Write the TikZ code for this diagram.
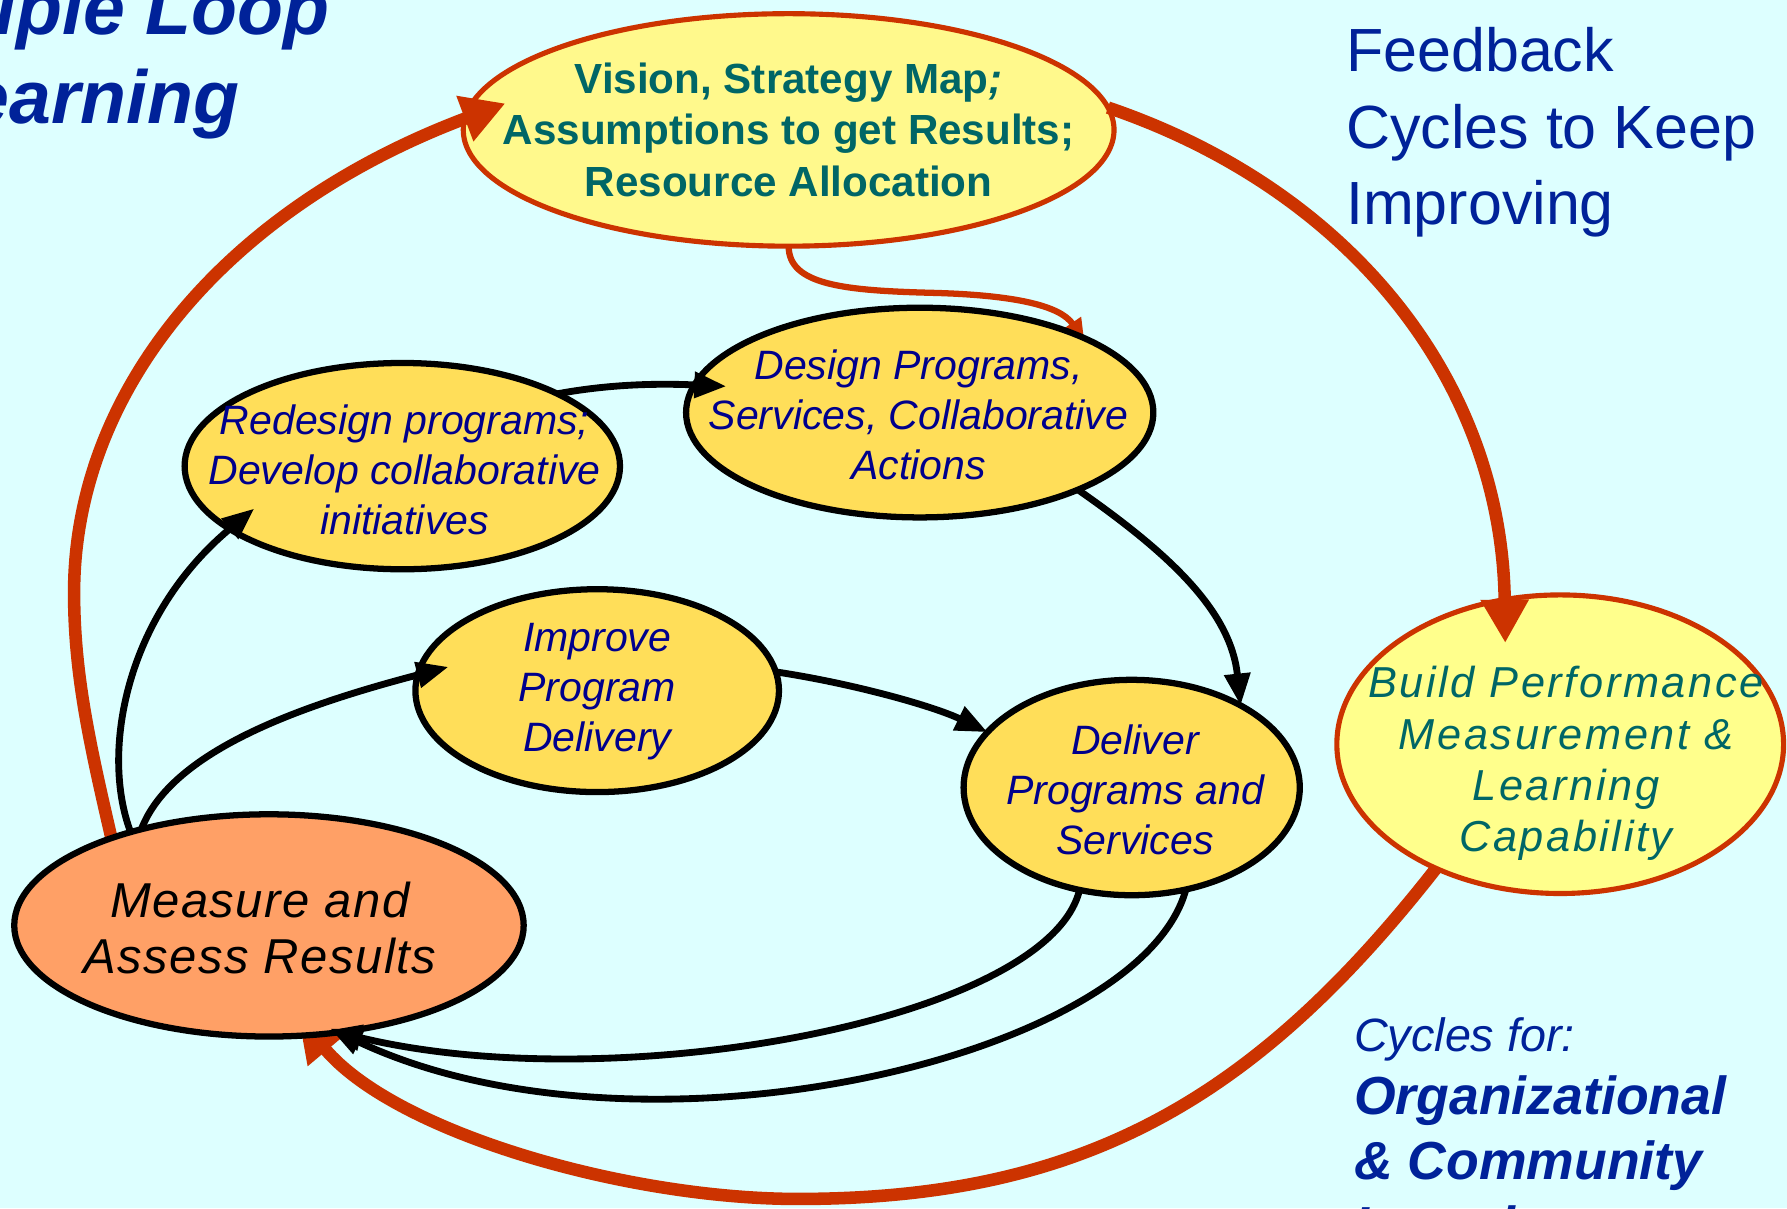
\documentclass[tikz,border=0pt]{standalone}
\usepackage{fontspec}
\setmainfont{Liberation Sans}
\newfontfamily\measfont[LetterSpace=3]{Liberation Sans}
\newfontfamily\buildfont[LetterSpace=6]{Liberation Sans}
\usetikzlibrary{arrows.meta,shapes.geometric}
\definecolor{bgc}{RGB}{221,255,255}
\definecolor{redc}{RGB}{204,51,0}
\definecolor{tealc}{RGB}{0,102,102}
\definecolor{navyc}{RGB}{0,0,140}
\definecolor{bluec}{RGB}{0,34,153}
\definecolor{ylight}{RGB}{255,249,140}
\definecolor{ybuild}{RGB}{255,255,140}
\definecolor{ygold}{RGB}{255,222,89}
\definecolor{orangec}{RGB}{255,160,102}
\pgfdeclarelayer{bgl}
\pgfdeclarelayer{lowl}
\pgfdeclarelayer{redl}
\pgfdeclarelayer{topl}
\pgfsetlayers{bgl,lowl,redl,main,topl}
\begin{document}
\begin{tikzpicture}[x=1pt,y=-1pt,
  ell/.style={ellipse, inner sep=0pt, outer sep=0pt},
  rednode/.style={ell, draw=redc, line width=4.5pt},
  blknode/.style={ell, draw=black, line width=5.5pt},
  tealbold/.style={text=tealc, font=\bfseries\fontsize{37}{45}\selectfont, align=center},
  navytxt/.style={text=navyc, font=\itshape\fontsize{36}{44}\selectfont, align=center},
  titletxt/.style={text=bluec, anchor=base west, inner sep=0pt},
  bigred/.style={draw=redc, line width=11pt, -{Triangle[length=38pt,width=40pt]}},
  thinred/.style={draw=redc, line width=5.5pt, -{Triangle[length=19pt,width=18pt]}},
  blkarrow/.style={draw=black, line width=6pt, -{Triangle[length=28pt,width=22pt]}}
]
\begin{pgfonlayer}{bgl}
  \fill[bgc] (0,0) rectangle (1568,1060);
\end{pgfonlayer}
\useasboundingbox (0,0) rectangle (1568,1060);

% nodes under the red arrows
\begin{pgfonlayer}{lowl}
  \node[rednode, fill=ylight, minimum width=571pt, minimum height=204pt] (V) at (692,114) {};
  \node[rednode, fill=ybuild, minimum width=392pt, minimum height=262pt] (B) at (1369,653) {};
\end{pgfonlayer}

% nodes above the red arrows
\node[blknode, fill=orangec, minimum width=447pt, minimum height=195pt] (M) at (236,812) {};
\node[blknode, fill=ygold, minimum width=382pt, minimum height=181pt] (R) at (353,409) {};
\node[blknode, fill=ygold, minimum width=410pt, minimum height=184pt] (D) at (807,362) {};
\node[blknode, fill=ygold, minimum width=319pt, minimum height=178pt] (I) at (524,606) {};
\node[blknode, fill=ygold, minimum width=295pt, minimum height=189pt] (L) at (993,691) {};

% texts
\node[tealbold] (Vt) at (692,114) {Vision, Strategy Map\textit{;}\\Assumptions to get Results;\\Resource Allocation};
\node[text=tealc, font=\buildfont\itshape\fontsize{38}{45}\selectfont, align=center] (Bt) at (1374,670) {Build Performance\\Measurement \&\\Learning\\Capability};
\node[text=black, font=\measfont\itshape\fontsize{43}{49}\selectfont, align=center] (Mt) at (228,814) {Measure and\\Assess Results};
\node[navytxt] (Rt) at (355,412) {Redesign programs;\\Develop collaborative\\initiatives};
\node[navytxt] (Dt) at (806,364) {Design Programs,\\Services, Collaborative\\Actions};
\node[navytxt] (It) at (524,607) {Improve\\Program\\Delivery};
\node[navytxt] (Lt) at (996,693) {Deliver\\Programs and\\Services};

\node[titletxt, font=\bfseries\itshape\fontsize{66}{74}\selectfont] (T1) at (-69,30) {Triple Loop};
\node[titletxt, font=\bfseries\itshape\fontsize{66}{74}\selectfont] (T2) at (-69,108) {Learning};
\node[titletxt, font=\fontsize{53.5}{60}\selectfont] (F1) at (1181,63) {Feedback};
\node[titletxt, font=\fontsize{53.5}{60}\selectfont] (F2) at (1181,130) {Cycles to Keep};
\node[titletxt, font=\fontsize{53.5}{60}\selectfont] (F3) at (1181,197) {Improving};
\node[titletxt, font=\itshape\fontsize{41}{46}\selectfont] (C1) at (1188,923) {Cycles for:};
\node[titletxt, font=\bfseries\itshape\fontsize{47}{52}\selectfont] (C2) at (1188,978) {Organizational};
\node[titletxt, font=\bfseries\itshape\fontsize{47}{52}\selectfont] (C3) at (1188,1035) {\& Community};
\node[titletxt, font=\bfseries\itshape\fontsize{47}{52}\selectfont] (C4) at (1188,1092) {Learning};

% red feedback arrows
\begin{pgfonlayer}{redl}
  \draw[bigred, shorten >=-38pt] (M.151) .. controls (78,650) and (65,590) .. (65,520)
        .. controls (65,345) and (195,184) .. (V.178);
  \draw[bigred, shorten >=-38pt] (V.4) .. controls (1180,165) and (1318,330) .. (B.111);
  \draw[bigred, shorten >=-20pt] (B.225) .. controls (1101,965) and (950,1052) .. (700,1052)
        .. controls (550,1052) and (347,994) .. (M.-68);
  \draw[thinred, shorten >=-4pt] (V.south) .. controls (692,250) and (740,255) .. (820,257)
        .. controls (890,259) and (930,268) .. (D.25);
\end{pgfonlayer}

% black arrows
\begin{pgfonlayer}{topl}
  \draw[blkarrow, shorten >=-28pt] (M.146) .. controls (88,660) and (110,540) .. (R.200);
  \draw[blkarrow, shorten >=-28pt] (M.143) .. controls (150,660) and (260,620) .. (I.175);
  \draw[blkarrow, shorten >=-28pt] (R.25) .. controls (530,338) and (570,336) .. (D.173);
  \draw[blkarrow] (D.-26) .. controls (1028,487) and (1080,537) .. (L.37);
  \draw[blkarrow] (I.6) .. controls (750,600) and (820,620) .. (L.159);
  \draw[blkarrow, shorten >=-8pt] (L.243) .. controls (920,895) and (540,965) .. (M.-57);
  \draw[blkarrow, shorten >=-8pt] (L.-62) .. controls (1000,930) and (560,1030) .. (M.-57);
\end{pgfonlayer}
\end{tikzpicture}
\end{document}
